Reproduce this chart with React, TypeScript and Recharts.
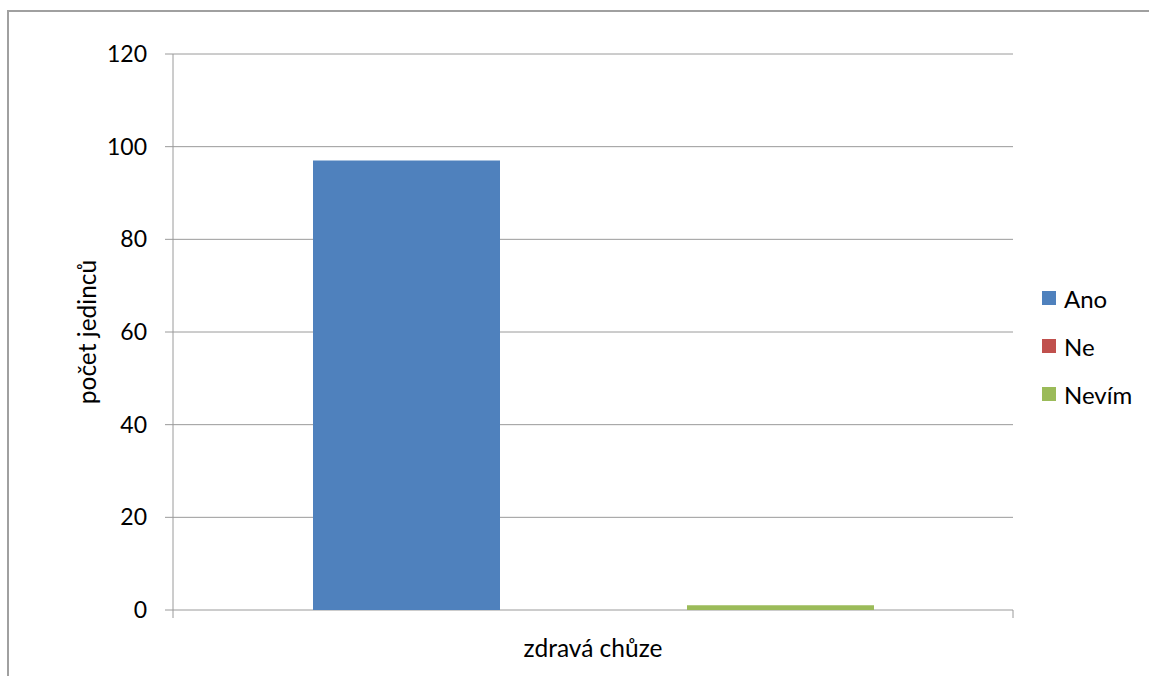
import React from "react";
import {
  BarChart, Bar, XAxis, YAxis, CartesianGrid, Legend
} from "recharts";

// values
const categories = ["zdravá chůze"];
const ano = [97];
const ne = [0];
const nevim = [1];
const yTicks = [0, 20, 40, 60, 80, 100, 120];

const FONT = "Lato, 'Open Sans', sans-serif";
const GRID = "#9a9a9a";
const X_TICK_GAP = 30;

const seriesStyle = [
  { key: "Ano", color: "#4F81BD" },
  { key: "Ne", color: "#C0504D" },
  { key: "Nevím", color: "#9BBB59" },
];

const data = categories.map((c, i) => ({
  name: c,
  Ano: ano[i],
  Ne: ne[i],
  "Nevím": nevim[i],
}));

// category label plus small tick marks on both edges of the band
function CategoryTick(props: any) {
  const { x, y, payload, width } = props;
  const half = payload && payload.offset ? payload.offset : width / 2;
  const axisY = y - X_TICK_GAP;
  return (
    <g>
      <line x1={x - half} x2={x - half} y1={axisY} y2={axisY + 8} stroke={GRID} />
      <line x1={x + half} x2={x + half} y1={axisY} y2={axisY + 8} stroke={GRID} />
      <text x={x} y={y} dy="0.71em" textAnchor="middle" fontSize={24.5} fontFamily={FONT} fill="#000">
        {payload.value}
      </text>
    </g>
  );
}

function LegendBox({ payload }: any) {
  return (
    <div style={{ fontFamily: FONT, fontSize: 24, color: "#000" }}>
      {(payload || []).map((p: any) => (
        <div key={p.value} style={{ display: "flex", alignItems: "center", height: 48 }}>
          <span style={{ width: 14, height: 14, background: p.color, marginRight: 8, display: "inline-block" }} />
          <span>{p.value}</span>
        </div>
      ))}
    </div>
  );
}

export default function App() {
  return (
    <div style={{ position: "fixed", left: 0, top: 0, width: 1149, height: 676, overflow: "hidden", background: "#fff" }}>
      {/* chart frame: only the top and left edges fall inside the page */}
      <div style={{ position: "absolute", left: 7, top: 10, width: 1142, height: 2, background: "#a0a0a0" }} />
      <div style={{ position: "absolute", left: 7, top: 10, width: 2, height: 666, background: "#a0a0a0" }} />
      <BarChart
        width={1149}
        height={676}
        data={data}
        margin={{ top: 54, right: 26, bottom: 8, left: 0 }}
        barCategoryGap="16.667%"
        barGap={0}
      >
        <CartesianGrid vertical={false} stroke={GRID} strokeWidth={1} />
        <XAxis
          dataKey="name"
          height={58}
          axisLine={false}
          tickLine={false}
          tickSize={0}
          tickMargin={X_TICK_GAP}
          tick={<CategoryTick />}
        />
        <YAxis
          width={173}
          domain={[0, 120]}
          ticks={yTicks}
          interval={0}
          axisLine={{ stroke: GRID }}
          tickLine={{ stroke: GRID }}
          tickSize={8}
          tickMargin={18}
          tick={{ fontSize: 23, fill: "#000", fontFamily: FONT }}
          label={{
            value: "počet jedinců",
            angle: -90,
            position: "center",
            dx: 1,
            fontSize: 24.5,
            fill: "#000",
            fontFamily: FONT,
          }}
        />
        <Legend
          layout="horizontal"
          verticalAlign="middle"
          align="right"
          content={<LegendBox />}
          wrapperStyle={{ position: "absolute", left: 1042, top: 274, width: 110 }}
        />
        {seriesStyle.map((s) => (
          <Bar key={s.key} dataKey={s.key} name={s.key} fill={s.color} isAnimationActive={false} />
        ))}
      </BarChart>
    </div>
  );
}
